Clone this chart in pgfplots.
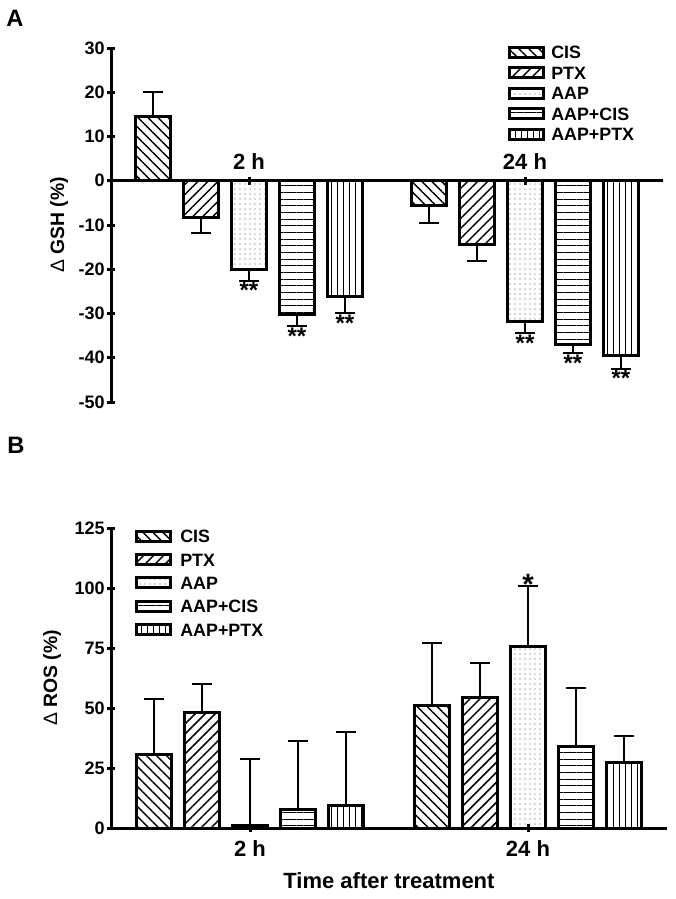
\documentclass[border=0pt]{standalone}
\usepackage{fontspec}
\setmainfont{Liberation Sans}
\usepackage{pgfplots}
\pgfplotsset{compat=1.18}
\usetikzlibrary{patterns.meta}
\tikzset{astnode/.style={anchor=north, inner sep=0pt, yshift=-1pt, font=\fontsize{18}{20}\selectfont\bfseries}}
\pgfplotsset{
  cis/.style={draw=black, line width=2.25pt, pattern={Lines[angle=-45,distance=5.3pt,line width=1.1pt]}, pattern color=black},
  ptx/.style={draw=black, line width=2.25pt, pattern={Lines[angle=45,distance=5.3pt,line width=1.1pt]}, pattern color=black},
  aap/.style={draw=black, line width=2.25pt, pattern={Dots[distance=3.75pt,radius=0.45pt]}, pattern color=black!70},
  aapcis/.style={draw=black, line width=2.25pt, pattern={Lines[angle=0,distance=5pt,line width=0.6pt]}, pattern color=black},
  aapptx/.style={draw=black, line width=2.25pt, pattern={Lines[angle=90,distance=4.6pt,line width=0.6pt]}, pattern color=black},
  common/.style={
    scale only axis, clip=false,
    xmin=-0.5, xmax=1.5, xtick={0,1},
    tick align=outside,
    major tick length=6pt,
    tick style={line width=2.25pt, black},
    /pgf/number format/assume math mode=true,
    yticklabel style={font=\fontsize{13.5}{15}\selectfont\bfseries, inner sep=1.5pt},
    ybar=9.75pt, bar width=26.25pt,
    legend cell align=left,
    legend image code/.code={\draw[##1, line width=2.25pt] (0pt,-3.75pt) rectangle (25.5pt,3.75pt);},
    error bars/error bar style={line width=1.5pt, black, solid},
    error bars/error mark options={rotate=90, line width=1.5pt, black, mark size=7.5pt, solid},
  },
  noarrows/.style={
    axis line style={line width=2.25pt, black, -},
    x axis line style={-}, y axis line style={-},
    every outer x axis line/.append style={-},
    every outer y axis line/.append style={-},
    every inner x axis line/.append style={-},
    every inner y axis line/.append style={-},
  },
}
\begin{document}
\begin{tikzpicture}
\useasboundingbox (0,0) rectangle (506.25pt,-674.25pt);
\node[anchor=base west, inner sep=0pt, font=\fontsize{17.8}{20}\selectfont\bfseries] at (4.5pt,-20.25pt) {A};
\node[anchor=base west, inner sep=0pt, font=\fontsize{17.8}{20}\selectfont\bfseries] at (5.25pt,-339.75pt) {B};
% ---------------- Panel A ----------------
\begin{axis}[common,
  at={(83.25pt,-301.5pt)}, anchor=south west,
  width=414pt, height=265.5pt,
  ymin=-50, ymax=30, ytick={-50,-40,-30,-20,-10,0,10,20,30},
  axis x line=middle, axis y line=left, noarrows,
  hide obscured x ticks=false, hide obscured y ticks=false,
  xticklabels={,},
  ylabel={{\mdseries Δ} GSH (\%)},
  ylabel style={font=\fontsize{14.5}{16}\selectfont\bfseries, at={(axis description cs:-0.0851,0.5)}, anchor=base},
  legend style={draw=none, fill=none, inner sep=0pt, anchor=north west,
      at={(axis description cs:0.7192,1.007)},
      font=\fontsize{13.4}{15}\selectfont\bfseries,
      row sep=5.65pt,
      nodes={inner sep=0pt, text height=9.7pt, text depth=0pt},
      /tikz/every odd column/.style={column sep=4.5pt}},
]
\addplot[cis, error bars/.cd, y dir=both, y explicit] coordinates {(0,14.5) += (0,5.5) -= (0,0) (1,-5.7) += (0,0) -= (0,3.8)};
\addplot[ptx, error bars/.cd, y dir=minus, y explicit] coordinates {(0,-8.4) +- (0,3.4) (1,-14.3) +- (0,3.8)};
\addplot[aap, error bars/.cd, y dir=minus, y explicit] coordinates {(0,-20.0) +- (0,2.6) (1,-31.9) +- (0,2.5)};
\addplot[aapcis, error bars/.cd, y dir=minus, y explicit] coordinates {(0,-30.3) +- (0,2.5) (1,-37.0) +- (0,2.0)};
\addplot[aapptx, error bars/.cd, y dir=minus, y explicit] coordinates {(0,-26.1) +- (0,3.8) (1,-39.6) +- (0,2.9)};
\legend{CIS,PTX,AAP,AAP+CIS,AAP+PTX}
\node[anchor=base, inner sep=0pt, font=\fontsize{16.5}{18}\selectfont\bfseries, yshift=8.25pt] at (axis cs:0,0) {2 h};
\node[anchor=base, inner sep=0pt, font=\fontsize{16.5}{18}\selectfont\bfseries, yshift=8.25pt] at (axis cs:1,0) {24 h};
\node[astnode] at (axis cs:0,-22.6) {**};
\node[astnode] at (axis cs:0.1739,-32.8) {**};
\node[astnode] at (axis cs:0.3478,-29.9) {**};
\node[astnode] at (axis cs:1,-34.4) {**};
\node[astnode] at (axis cs:1.1739,-39.0) {**};
\node[astnode] at (axis cs:1.3478,-42.5) {**};
\end{axis}
% ---------------- Panel B ----------------
\begin{axis}[common,
  at={(83.25pt,-621pt)}, anchor=south west,
  width=417pt, height=225pt,
  ymin=0, ymax=125, ytick={0,25,50,75,100,125},
  axis x line=bottom, axis y line=left, noarrows,
  xticklabels={2 h,24 h},
  xticklabel style={font=\fontsize{16.5}{18}\selectfont\bfseries, yshift=-3pt},
  xlabel={Time after treatment},
  xlabel style={font=\fontsize{16.5}{18}\selectfont\bfseries, at={(axis description cs:0.5,0)}, anchor=base, yshift=-45pt},
  ylabel={{\mdseries Δ} ROS (\%)},
  ylabel style={font=\fontsize{14.5}{16}\selectfont\bfseries, at={(axis description cs:-0.0971,0.5)}, anchor=base},
  legend style={draw=none, fill=none, inner sep=0pt, anchor=north west,
      at={(axis description cs:0.0432,0.995)},
      font=\fontsize{13.4}{15}\selectfont\bfseries,
      row sep=7.75pt,
      nodes={inner sep=0pt, text height=9.7pt, text depth=0pt},
      /tikz/every odd column/.style={column sep=6pt}},
]
\addplot[cis, error bars/.cd, y dir=plus, y explicit] coordinates {(0,30.8) +- (0,22.9) (1,51.0) +- (0,26.2)};
\addplot[ptx, error bars/.cd, y dir=plus, y explicit] coordinates {(0,48.0) +- (0,12.0) (1,54.3) +- (0,14.4)};
\addplot[aap, error bars/.cd, y dir=plus, y explicit] coordinates {(0,1.2) +- (0,27.5) (1,75.6) +- (0,25.3)};
\addplot[aapcis, error bars/.cd, y dir=plus, y explicit] coordinates {(0,7.8) +- (0,28.5) (1,33.8) +- (0,24.4)};
\addplot[aapptx, error bars/.cd, y dir=plus, y explicit] coordinates {(0,9.3) +- (0,30.6) (1,27.4) +- (0,11.1)};
\legend{CIS,PTX,AAP,AAP+CIS,AAP+PTX}
\node[anchor=base, inner sep=0pt, yshift=-6.5pt, font=\fontsize{22}{24}\selectfont\bfseries] at (axis cs:1,100.9) {*};
\end{axis}
\end{tikzpicture}
\end{document}
